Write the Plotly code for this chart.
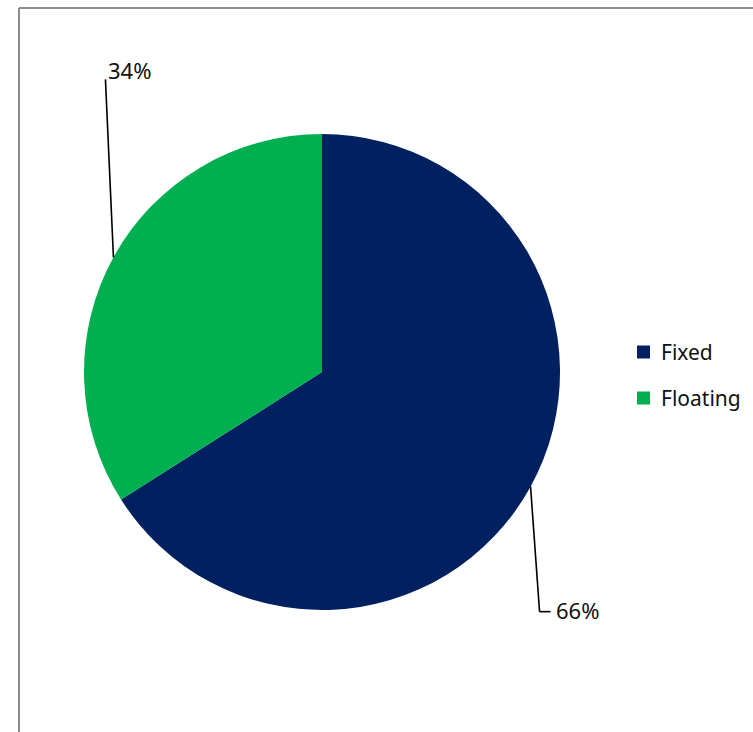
import math
import plotly.graph_objects as go

# ---- data ----
categories = ["Fixed", "Floating"]
shares = [66, 34]
colors = ["#002060", "#00B050"]

W, H = 753, 732
CX, CY, R = 322, 372, 238  # pie centre / radius in pixels (layout)

def px(x):
    return x / W

def py(y):
    return 1 - y / H

fig = go.Figure()
fig.add_trace(go.Pie(
    labels=categories, values=shares, sort=False, direction="clockwise",
    rotation=0, marker=dict(colors=colors, line=dict(width=0)),
    textinfo="none", hoverinfo="label+percent", showlegend=False,
    domain=dict(x=[px(CX - R), px(CX + R)], y=[py(CY + R), py(CY - R)]),
))

shapes = []
annotations = []

# border (top + left)
border = dict(type="line", xref="paper", yref="paper", line=dict(color="#8c8c8c", width=2))
shapes.append(dict(border, x0=px(19), y0=py(8), x1=1, y1=py(8)))
shapes.append(dict(border, x0=px(19), y0=py(8), x1=px(19), y1=0))

FONT = "Noto Sans, Open Sans, sans-serif"

# data labels with leader lines, computed from slice mid-angles
total = sum(shares)
cum = 0
label_style = [
    # (dx, dy of elbow from edge point, horizontal tail length)
    (9, 125, 11),
    (-8, -178, 0),
]
for i, v in enumerate(shares):
    mid = (cum + v / 2) / total * 2 * math.pi
    cum += v
    ex = CX + R * math.sin(mid)
    ey = CY - R * math.cos(mid)
    dx, dy, tail = label_style[i]
    kx, ky = ex + dx, ey + dy
    line = dict(type="line", xref="paper", yref="paper", line=dict(color="#000000", width=1.6))
    shapes.append(dict(line, x0=px(ex), y0=py(ey), x1=px(kx), y1=py(ky)))
    if tail:
        shapes.append(dict(line, x0=px(kx), y0=py(ky), x1=px(kx + tail), y1=py(ky)))
        tx, ty, yanchor = kx + tail + 3, ky - 2, "middle"
    else:
        tx, ty, yanchor = kx + 1, ky + 8, "bottom"
    annotations.append(dict(
        x=px(tx), y=py(ty), xref="paper", yref="paper", xanchor="left", yanchor=yanchor,
        text=f"{v}%", showarrow=False,
        font=dict(family=FONT, size=22, color="#111111"),
    ))

# legend
leg_x, leg_y0, leg_gap, sq = 637, 352, 46, 13
for i, (c, col) in enumerate(zip(categories, colors)):
    yc = leg_y0 + i * leg_gap
    shapes.append(dict(type="rect", xref="paper", yref="paper",
                       x0=px(leg_x), x1=px(leg_x + sq), y0=py(yc + sq / 2), y1=py(yc - sq / 2),
                       fillcolor=col, line=dict(width=0)))
    annotations.append(dict(
        x=px(leg_x + sq + 9), y=py(yc), xref="paper", yref="paper",
        xanchor="left", yanchor="middle", text=c, showarrow=False,
        font=dict(family=FONT, size=21, color="#111111"),
    ))

fig.update_layout(
    width=W, height=H, margin=dict(l=0, r=0, t=0, b=0),
    paper_bgcolor="white", plot_bgcolor="white",
    shapes=shapes, annotations=annotations, showlegend=False,
)

fig.write_html("out.html")
